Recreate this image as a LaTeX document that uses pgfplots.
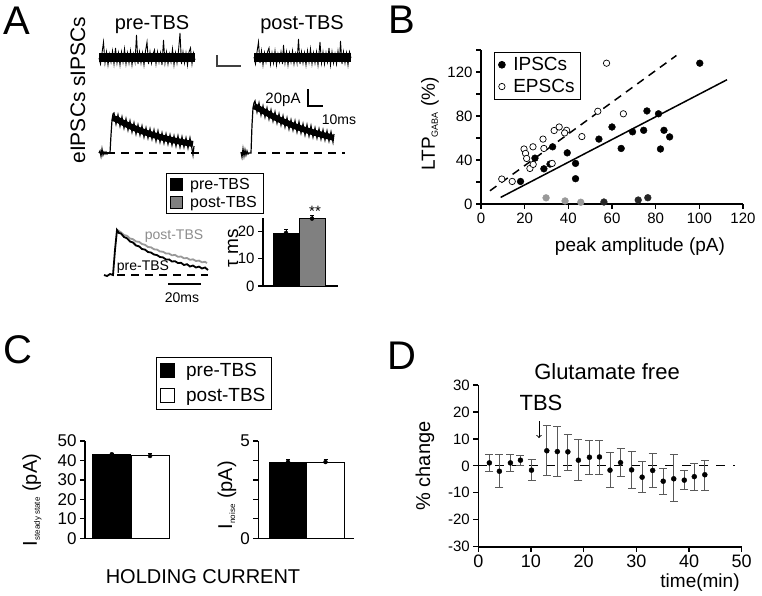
\documentclass[border=0pt]{standalone}
\usepackage{fontspec}
\setmainfont{Liberation Sans}
\usepackage{pgfplots}
\pgfplotsset{compat=1.18}
\newcommand{\fs}[1]{\fontsize{#1}{#1}\selectfont}
\pgfplotsset{
  panel/.style={
    scale only axis, anchor=south west,
    axis lines*=left, axis line style={line width=1.6pt,-},
    tick align=outside, major tick length=5pt, minor tick length=5pt,
    tick style={black, line width=1.2pt},
    /pgf/number format/assume math mode=true,
    tick label style={font=\fs{15}},
    clip=false,
  },
  boxlegend/.style={legend style={draw=black, line width=0.8pt, fill=white,
    font=\fs{19}, row sep=3pt, column sep=6pt, inner xsep=4pt, inner ysep=3pt, cells={anchor=west}}},
}
\begin{document}
\begin{tikzpicture}
\useasboundingbox (0,0) rectangle (762pt,595pt);
% ---------- overall pixel axis (panel A traces, labels) ----------
\begin{axis}[at={(0pt,0pt)}, anchor=south west, scale only axis, width=762pt, height=595pt,
  xmin=0, xmax=762, ymin=0, ymax=595, y dir=reverse, hide axis, clip=false]
% sIPSC pre
\addplot[black, line width=9pt] coordinates {(99,57) (195,57)};
\addplot[black, line width=0.9pt] coordinates {
(99,58)(100.5,64)(102,53)(103.5,42)(105,63)(106.5,52)(108,65)(109.5,54)(111,62)(112.5,51)
(114,64)(115.5,48)(117,63)(118.5,53)(120,65)(121.5,52)(123,62)(124.5,49)(126,64)(127.5,53)
(129,63)(130.5,51)(132,65)(133.5,54)(135,62)(136.5,35)(138,64)(139.5,52)(141,63)(142.5,53)
(144,65)(145.5,51)(147,42)(148.5,64)(150,52)(151.5,63)(153,54)(154.5,50)(156,64)(157.5,52)
(159,62)(160.5,53)(162,65)(163.5,40)(165,63)(166.5,52)(168,64)(169.5,54)(171,62)(172.5,49)
(174,65)(175.5,53)(177,63)(178.5,51)(180,33)(181.5,64)(183,52)(184.5,63)(186,53)(187.5,65)
(189,52)(190.5,48)(192,64)(193.5,53)(195,60)};
% sIPSC post
\addplot[black, line width=9pt] coordinates {(254,57) (351,57)};
\addplot[black, line width=0.9pt] coordinates {
(254,57)(255.5,64)(257,52)(258.5,42)(260,63)(261.5,51)(263,65)(264.5,53)(266,62)(267.5,52)
(269,48)(270.5,64)(272,53)(273.5,63)(275,51)(276.5,65)(278,54)(279.5,62)(281,52)(282.5,64)
(283.5,45)(285,63)(286.5,52)(288,65)(289.5,53)(291,62)(292.5,51)(294,64)(295.5,54)(297,63)
(298.5,39)(300,64)(301.5,52)(303,63)(304.5,53)(306,65)(307.5,51)(309,62)(310.5,49)(312,64)
(313.5,53)(315,63)(316.5,52)(318,65)(320,42)(321.5,63)(323,52)(324.5,64)(326,53)(327.5,62)
(329,48)(330.5,65)(332,52)(333.5,63)(335,54)(336.5,64)(338,51)(339.5,62)(340.5,41)(342,64)
(343.5,52)(345,63)(346.5,53)(348,65)(349.5,52)(351,58)};
% scale bar sIPSC
\addplot[black!75, line width=1.1pt] coordinates {(217,55) (217,66) (241,66)};
% eIPSC pre
\addplot[black, line width=6pt] coordinates {
(112.5,118)(117,119.4)(121,121.6)(125,123.7)(129,125.7)(133,127.5)(137,129.2)(141,130.8)(145,132.3)
(149,133.6)(153,134.9)(157,136.1)(161,137.3)(165,138.3)(169,139.3)(173,140.2)(177,141.1)(181,141.8)
(185,142.6)(189,143.3)(193,143.9)};
\addplot[black, line width=1.2pt] coordinates {
(99,153)(100,151)(101,156)(102,149)(103,155)(104,152)(105,154)(106,152)(107,154)(108,153)(110,153)
(111,135)(112,120)(113,114)
(114,113)(116,124)(118,115)(120,126)(122,117)(124,128)(126,119)(128,130)(130,121)(132,132)
(134,123)(136,134)(138,125)(140,135)(142,126)(144,137)(146,128)(148,138)(150,129)(152,139)
(154,130)(156,141)(158,131)(160,142)(162,133)(164,143)(166,134)(168,144)(170,135)(172,145)
(174,136)(176,146)(178,136)(180,147)(182,137)(184,147)(186,138)(188,148)(190,138)(192,149)
(193,155)(194,146)};
\addplot[black, line width=1.2pt, dash pattern=on 8pt off 6pt] coordinates {(107,153) (200,153)};
% eIPSC post
\addplot[black, line width=6pt] coordinates {
(254,106)(264,111.4)(274,117)(284,121.7)(294,125.9)(304,129.5)(314,132.6)(324,135.3)(333,137.6)};
\addplot[black, line width=1.2pt] coordinates {
(241,152)(242,157)(243,149)(244,156)(245,150)(246,155)(247,151)(248,154)(249,153)(251,153)
(252,125)(253,108)(254,103)
(255,101)(257,112)(259,103)(261,115)(263,106)(265,117)(267,108)(269,119)(271,110)(273,121)
(275,112)(277,123)(279,114)(281,125)(283,116)(285,127)(287,118)(289,129)(291,120)(293,130)
(295,121)(297,132)(299,122)(301,133)(303,124)(305,135)(307,125)(309,136)(311,126)(313,137)
(315,128)(317,138)(319,129)(321,139)(323,130)(325,140)(327,131)(329,141)(331,132)(333,142)(334,134)};
\addplot[black, line width=1.2pt, dash pattern=on 8pt off 6pt] coordinates {(258,153) (345,153)};
% scale bar eIPSC
\addplot[black, line width=1.2pt] coordinates {(308,89) (308,106) (323,106)};
% overlay traces
\addplot[black!40, line width=1.8pt] coordinates {
(117,230)(119,231)(121,232.4)(124,235)(127,235.8)(130,238.5)(133,239.2)(136,241.5)(139,241.8)
(142,244)(145,244.8)(148,247)(151,247.3)(154,249.3)(157,249.6)(160,251.5)(163,251.7)(166,253.5)
(169,253.6)(172,255.3)(175,254.9)(178,256.8)(181,256.5)(184,258.3)(187,258)(190,259.8)(193,259.3)
(196,261)(199,260.6)(202,262.3)(205,261.8)(207,263)};
\addplot[black, line width=1.8pt] coordinates {
(104,275)(107,276)(110,274)(113,275)(115,250)(117,230)(119,233)(121,233.5)(124,237)(127,238.3)
(130,241.5)(133,242.5)(136,245.5)(139,246.3)(142,249)(145,249.6)(148,252)(151,252.5)(154,254.5)
(157,255.1)(160,257)(163,257.4)(166,259.5)(169,259.4)(172,261.5)(175,261.2)(178,263)(181,262.8)
(184,265)(187,264.2)(190,266.5)(193,265.5)(196,267.5)(199,266.6)(202,268.5)(205,267.5)(208,270)};
\addplot[black, line width=1.2pt, dash pattern=on 8pt off 6pt] coordinates {(117,275) (208,275)};
\addplot[black, line width=1.5pt] coordinates {(168,284) (201,284)};
% texts panel A
\node[font=\fs{40}] at (axis cs:17,21) {A};
\node[font=\fs{40}] at (axis cs:402,20) {B};
\node[font=\fs{40}] at (axis cs:18,350) {C};
\node[font=\fs{40}] at (axis cs:402,356) {D};
\node[font=\fs{21}, rotate=90] at (axis cs:78,90) {eIPSCs sIPSCs};
\node[font=\fs{20}] at (axis cs:152,25) {pre-TBS};
\node[font=\fs{20}] at (axis cs:302,25) {post-TBS};
\node[font=\fs{15}] at (axis cs:283,100) {20pA};
\node[font=\fs{14}] at (axis cs:339,120) {10ms};
\node[font=\fs{14}, text=black!45] at (axis cs:174,236) {post-TBS};
\node[font=\fs{14}] at (axis cs:143,267) {pre-TBS};
\node[font=\fs{14}] at (axis cs:182,298) {20ms};
\node[font=\fs{19}, rotate=90] at (axis cs:233,248) {τ ms};
\node[font=\fs{15}] at (axis cs:315,211) {**};
% panel B labels
\node[font=\fs{19}, rotate=90] at (axis cs:430,124) {LTP\raisebox{-3pt}{\fs{9}GABA} (\%)};
\node[font=\fs{19}] at (axis cs:640,247) {peak amplitude (pA)};
% panel C labels
\node[font=\fs{20}, rotate=90] at (axis cs:32,500) {I\raisebox{-3pt}{\fs{8}steady state} (pA)};
\node[font=\fs{20}, rotate=90] at (axis cs:227,495) {I\raisebox{-3pt}{\fs{8}noise} (pA)};
\node[font=\fs{20}] at (axis cs:203,577) {HOLDING CURRENT};
% panel D labels
\node[font=\fs{20}, rotate=90] at (axis cs:425,466) {\% change};
\node[font=\fs{19}] at (axis cs:700,583) {time(min)};
\node[font=\fs{22}] at (axis cs:607,372) {Glutamate free};
\node[font=\fs{22}] at (axis cs:541,403) {TBS};
\draw[->, line width=1pt] (axis cs:539,421) -- (axis cs:539,438);
\end{axis}
% ---------- panel A tau bars ----------
\begin{axis}[panel, boxlegend, at={(263pt,309pt)}, width=75pt, height=68pt,
  xmin=0.115, xmax=3.0, ymin=0, ymax=25, ytick={0,10,20}, xtick=\empty,
  legend style={at={(-1.293,1.662)}, anchor=north west, font=\fs{16}, row sep=1pt, column sep=5pt},
  legend image code/.code={\draw[#1, line width=0.8pt] (0pt,-6pt) rectangle (12pt,6pt);}]
\addplot[ybar, bar width=26pt, bar shift=0pt, fill=black, draw=black] coordinates {(1,19.5)};
\addlegendentry{pre-TBS}
\addplot[ybar, bar width=26pt, bar shift=0pt, fill=black!50, draw=black] coordinates {(2,24.8)};
\addlegendentry{post-TBS}
\addplot[forget plot, black, only marks, mark=none, error bars/.cd, y dir=plus, y explicit,
  error bar style={line width=1pt}, error mark options={rotate=90, mark size=2pt, line width=1pt}]
  coordinates {(1,19.5) +- (0,1.2) (2,24.8) +- (0,1.2)};
\end{axis}
% ---------- panel B ----------
\begin{axis}[panel, boxlegend, at={(481pt,391pt)}, width=262pt, height=154pt,
  xmin=0, xmax=120, ymin=0, ymax=140, xtick={0,20,...,120},
  ytick={0,40,80,120}, minor ytick={20,60,100,140},
  legend style={at={(0.05,0.987)}, anchor=north west}]
\addplot[only marks, mark=*, mark size=3.4pt, black] coordinates {
(100.2,128)(18.1,20.5)(24.7,41.7)(28.8,32)(31.6,36.3)(32.8,52)(39.5,46.5)(43.3,36.9)(43.3,23)
(54,59)(60,70)(64.2,50.5)(69.4,65.6)(74.5,67)(76,84.6)(81.3,82)(82.2,50)(83.8,67)(86.4,61)};
\addlegendentry{IPSCs}
\addplot[only marks, mark=*, mark size=3.2pt, mark options={fill=white, draw=black, line width=0.7pt}] coordinates {
(9.5,22.7)(14.3,20.5)(19.7,50)(20.4,46)(20.9,41.4)(22.4,32.3)(23.8,52)(23.9,36)(28.4,59)(28.8,50.5)
(32.6,36.9)(33.5,66.8)(35.8,70)(39.2,67)(38.3,64.6)(46.2,61.3)(53.5,84.3)(57.5,128)(65.2,82)};
\addlegendentry{EPSCs}
\addplot[forget plot, only marks, mark=*, mark size=3.4pt, black!40] coordinates {(29.8,5.6)(38.5,2.8)(45.7,1.6)};
\addplot[forget plot, only marks, mark=*, mark size=3.4pt, black!85] coordinates {(56.3,1.8)(72,3.6)(76.4,5.7)};
\addplot[forget plot, black, line width=1.5pt] coordinates {(9,6) (112.7,113)};
\addplot[forget plot, black, line width=1.5pt, dash pattern=on 8pt off 6pt] coordinates {(4.1,12) (89.5,135)};
\end{axis}
% ---------- panel C left ----------
\begin{axis}[panel, boxlegend, at={(85pt,56.7pt)}, width=84pt, height=97.3pt,
  xmin=0.298, xmax=2.496, ymin=0, ymax=50, ytick={0,10,...,50}, xtick=\empty,
  tick label style={font=\fs{17}},
  legend style={at={(0.845,1.863)}, anchor=north west, font=\fs{19}, row sep=6pt, column sep=9pt, inner ysep=4pt},
  legend image code/.code={\draw[#1, line width=0.8pt] (0pt,-7pt) rectangle (14pt,7pt);}]
\addplot[ybar, bar width=38pt, bar shift=0pt, fill=black, draw=black, line width=1pt] coordinates {(1,43.2)};
\addlegendentry{pre-TBS}
\addplot[ybar, bar width=38pt, bar shift=0pt, fill=white, draw=black, line width=1pt] coordinates {(2,42.3)};
\addlegendentry{post-TBS}
\addplot[forget plot, black, only marks, mark=none, error bars/.cd, y dir=plus, y explicit,
  error bar style={line width=1pt}, error mark options={rotate=90, mark size=2pt, line width=1pt}]
  coordinates {(1,43.2) +- (0,0.6) (2,42.3) +- (0,1.2)};
\end{axis}
% ---------- panel C right ----------
\begin{axis}[panel, at={(258.3pt,56.7pt)}, width=95.7pt, height=97.3pt,
  xmin=0.208, xmax=2.76, ymin=0, ymax=5, ytick={0,1,2,3,4,5}, yticklabels={0,,,,,5}, xtick=\empty,
  tick label style={font=\fs{17}}]
\addplot[ybar, bar width=38pt, bar shift=0pt, fill=black, draw=black, line width=1pt] coordinates {(1,3.92)};
\addplot[ybar, bar width=38pt, bar shift=0pt, fill=white, draw=black, line width=1pt] coordinates {(2,3.92)};
\addplot[forget plot, black, only marks, mark=none, error bars/.cd, y dir=plus, y explicit,
  error bar style={line width=1pt}, error mark options={rotate=90, mark size=2pt, line width=1pt}]
  coordinates {(1,3.92) +- (0,0.13) (2,3.92) +- (0,0.13)};
\end{axis}
% ---------- panel D ----------
\begin{axis}[panel, at={(478.3pt,48.3pt)}, width=263.4pt, height=161.7pt,
  xmin=0, xmax=50, ymin=-30, ymax=30, xtick={0,10,...,50}, ytick={-30,-20,...,30},
  xticklabel style={font=\fs{18}}, yticklabel style={font=\fs{15}}]
\addplot[black, line width=1.2pt, dash pattern=on 9pt off 8pt] coordinates {(0,0) (48.7,0)};
\addplot[black, only marks, mark=*, mark size=2.5pt, error bars/.cd, y dir=both, y explicit,
  error bar style={line width=1pt, black!65}, error mark options={rotate=90, mark size=4pt, line width=1pt, black!65}]
  coordinates {
  (2.1,1.1) += (0,3.2) -= (0,3.3)
  (4.0,-2.0) += (0,6.3) -= (0,6.2)
  (6.1,1.1) += (0,3.0) -= (0,3.3)
  (8.0,2.1) += (0,1.9) -= (0,2.0)
  (10.1,-1.6) += (0,4.0) -= (0,3.7)
  (13,5.6) += (0,9.3) -= (0,9.3)
  (15,5.3) += (0,9.4) -= (0,9.1)
  (17,5.2) += (0,6.3) -= (0,6.8)
  (19,2.1) += (0,7.6) -= (0,7.5)
  (21.1,3.2) += (0,6.3) -= (0,6.4)
  (23,3.3) += (0,6.2) -= (0,6.4)
  (25,-1.6) += (0,6.6) -= (0,6.3)
  (27,1.2) += (0,5.2) -= (0,5.2)
  (29.1,-1.5) += (0,6.7) -= (0,6.9)
  (31.1,-4.2) += (0,5.8) -= (0,5.7)
  (33.1,-1.7) += (0,6.3) -= (0,6.5)
  (35.1,-5.7) += (0,4.8) -= (0,4.9)
  (37.1,-4.8) += (0,9.1) -= (0,8.6)
  (39.1,-5.3) += (0,3.6) -= (0,3.5)
  (41,-4) += (0,4.9) -= (0,5.0)
  (43,-3.3) += (0,5.4) -= (0,5.7)
  };
\end{axis}
\end{tikzpicture}
\end{document}
